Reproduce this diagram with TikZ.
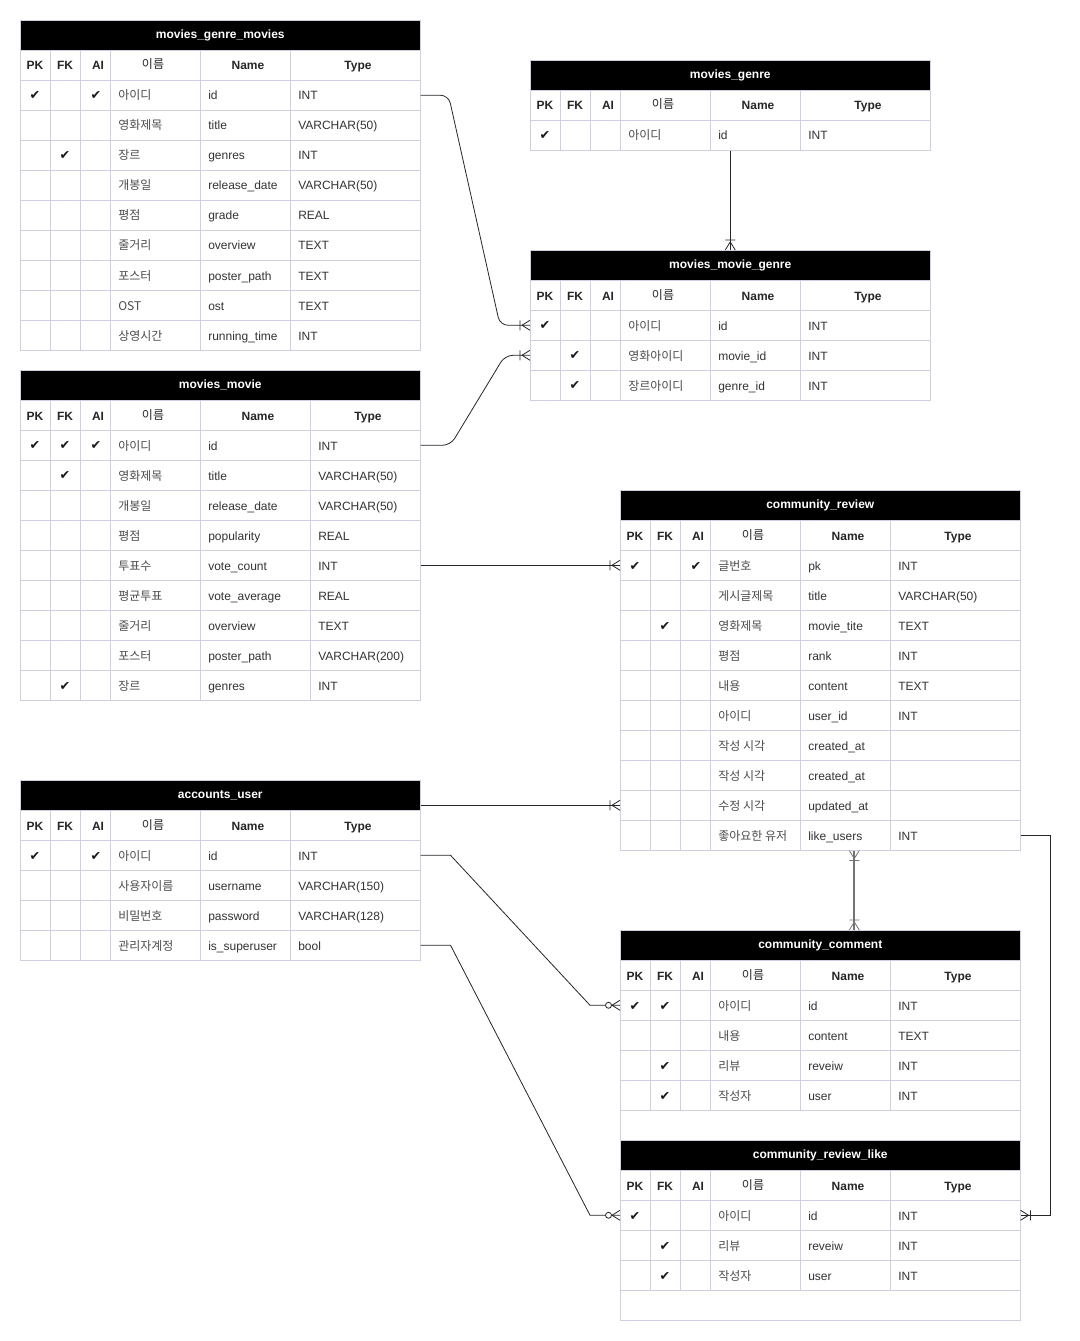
\documentclass[tikz,border=0pt]{standalone}
\usepackage{fontspec}
\setmainfont{Liberation Sans}
\newfontfamily\krfont{Noto Sans CJK KR}
\newfontfamily\symfont{DejaVu Sans}
\usetikzlibrary{calc}
\definecolor{erline}{HTML}{D0CEE2}
\definecolor{ertext}{HTML}{333333}
\newcommand{\ersize}{\fontsize{9}{11}\selectfont}
\newcommand{\ck}{✔}
\tikzset{
  ertitle/.style={anchor=north west, fill=black, draw=erline, text=white, font=\ersize\bfseries, minimum width=300pt, minimum height=22.5pt, inner sep=0pt},
  errow/.style={anchor=north west, draw=erline, minimum width=300pt, minimum height=22.5pt, inner sep=0pt},
  erhead/.style={anchor=base, font=\ersize\bfseries, text=black!85, inner sep=0pt},
  ercell/.style={anchor=base west, font=\ersize, text=ertext, inner sep=0pt},
  erkor/.style={anchor=base west, font=\ersize\krfont, text=black!70, inner sep=0pt},
  ercheck/.style={font=\fontsize{9.5}{11}\selectfont\symfont, text=black!90, inner sep=0pt},
  erlink/.style={color=black!85, line width=0.6pt},
  onemany/.pic={\draw (-10,-5) -- (-10,5) (0,-5) -- (-8,0) -- (0,5);},
  zeromany/.pic={\draw (0,-5) -- (-8,0) -- (0,5); \draw[fill=white] (-11.5,0) circle[radius=3];}
}
% #1 name, #2 #3 top left, #4 title, #5 Type column offset, #6 rows
\newcommand{\ertable}[6]{%
  \node[ertitle] (#1) at ({#2},{#3}) {#4};
  \node[errow] (#1-0) at ({#2},{#3+30}) {};
  \foreach \cx in {30,60,90,180,#5} \draw[erline] ({#2+\cx},{#3+30}) -- ++(0,30);
  \node[erhead] at ({#2+15},{#3+50}) {PK};
  \node[erhead] at ({#2+45},{#3+50}) {FK};
  \node[erhead] at ({#2+78},{#3+50}) {AI};
  \node[erhead, font=\ersize\krfont] at ({#2+133},{#3+49}) {이름};
  \node[erhead] at ({#2+(186+#5)/2},{#3+50}) {Name};
  \node[erhead] at ({#2+(406+#5)/2},{#3+50}) {Type};
  \foreach \pk/\fk/\ai/\kor/\nm/\ty [count=\i] in {#6}{
    \node[errow] (#1-\i) at ({#2},{#3+30+30*\i}) {};
    \foreach \cx in {30,60,90,180,#5} \draw[erline] ({#2+\cx},{#3+30+30*\i}) -- ++(0,30);
    \node[ercheck] at ({#2+15},{#3+46+30*\i}) {\pk};
    \node[ercheck] at ({#2+45},{#3+46+30*\i}) {\fk};
    \node[ercheck] at ({#2+76},{#3+46+30*\i}) {\ai};
    \node[erkor] at ({#2+98},{#3+50+30*\i}) {\kor};
    \node[ercell] at ({#2+188},{#3+50+30*\i}) {\nm};
    \node[ercell] at ({#2+#5+8},{#3+50+30*\i}) {\ty};
  }%
}
\begin{document}
\begin{tikzpicture}[x=0.75pt, y=-0.75pt]
\fill[white] (0,0) rectangle (1080,1341);
\useasboundingbox (0,0) rectangle (1080,1341);

\ertable{gm}{20}{20}{movies\_genre\_movies}{270}{%
\ck//\ck/아이디/id/INT,///영화제목/title/VARCHAR(50),/\ck//장르/genres/INT,%
///개봉일/release\_date/VARCHAR(50),///평점/grade/REAL,///줄거리/overview/TEXT,%
///포스터/poster\_path/TEXT,///OST/ost/TEXT,///상영시간/running\_time/INT}
\ertable{genre}{530}{60}{movies\_genre}{270}{\ck///아이디/id/INT}
\ertable{mmg}{530}{250}{movies\_movie\_genre}{270}{%
\ck///아이디/id/INT,/\ck//영화아이디/movie\_id/INT,/\ck//장르아이디/genre\_id/INT}
\ertable{movie}{20}{370}{movies\_movie}{290}{%
\ck/\ck/\ck/아이디/id/INT,/\ck//영화제목/title/VARCHAR(50),///개봉일/release\_date/VARCHAR(50),%
///평점/popularity/REAL,///투표수/vote\_count/INT,///평균투표/vote\_average/REAL,%
///줄거리/overview/TEXT,///포스터/poster\_path/VARCHAR(200),/\ck//장르/genres/INT}
\ertable{review}{620}{490}{community\_review}{270}{%
\ck//\ck/글번호/pk/INT,///게시글제목/title/VARCHAR(50),/\ck//영화제목/movie\_tite/TEXT,%
///평점/rank/INT,///내용/content/TEXT,///아이디/user\_id/INT,///작성 시각/created\_at/,%
///작성 시각/created\_at/,///수정 시각/updated\_at/,///좋아요한 유저/like\_users/INT}
\ertable{user}{20}{780}{accounts\_user}{270}{%
\ck//\ck/아이디/id/INT,///사용자이름/username/VARCHAR(150),%
///비밀번호/password/VARCHAR(128),///관리자계정/is\_superuser/bool}
\ertable{comment}{620}{930}{community\_comment}{270}{%
\ck/\ck//아이디/id/INT,///내용/content/TEXT,/\ck//리뷰/reveiw/INT,/\ck//작성자/user/INT}
\node[errow] (comment-end) at (620,1110) {};
\ertable{like}{620}{1140}{community\_review\_like}{270}{%
\ck///아이디/id/INT,/\ck//리뷰/reveiw/INT,/\ck//작성자/user/INT}
\node[errow] (like-end) at (620,1290) {};

\draw[erlink, rounded corners=6pt] (gm-1.east) -- ++(28,0) -- ($(mmg-1.west)+(-30,0)$) -- (mmg-1.west);
\draw[erlink, rounded corners=6pt] (movie-1.east) -- ++(30,0) -- ($(mmg-2.west)+(-25,0)$) -- (mmg-2.west);
\draw[erlink] (genre-1.south) -- (mmg.north);
\draw[erlink] (movie-5.east) -- (review-1.west);
\draw[erlink] (review-9.west -| user.east) -- (review-9.west);
\draw[erlink] (user-1.east) -- ++(30,0) -- ($(comment-1.west)+(-30,0)$) -- (comment-1.west);
\draw[erlink] (user-4.east) -- ++(30,0) -- ($(like-1.west)+(-30,0)$) -- (like-1.west);
\draw[erlink] (review-10.east) -- ++(30,0) |- (like-1.east);
\draw[erlink, color=black!55, line width=1.2pt] ($(review-10.south)+(34,0)$) -- ($(comment.north)+(34,0)$);

\pic[erlink] at (mmg-1.west) {onemany};
\pic[erlink] at (mmg-2.west) {onemany};
\pic[erlink, rotate=-90] at (mmg.north) {onemany};
\pic[erlink] at (review-1.west) {onemany};
\pic[erlink] at (review-9.west) {onemany};
\pic[erlink] at (comment-1.west) {zeromany};
\pic[erlink] at (like-1.west) {zeromany};
\pic[erlink, rotate=180] at (like-1.east) {onemany};
\pic[erlink, color=black!55, rotate=90] at ($(review-10.south)+(34,0)$) {onemany};
\pic[erlink, color=black!55, rotate=-90] at ($(comment.north)+(34,0)$) {onemany};
\end{tikzpicture}
\end{document}
